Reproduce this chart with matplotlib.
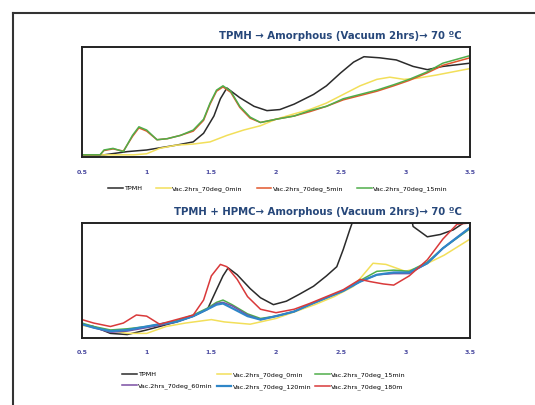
import matplotlib
matplotlib.use("Agg")
import matplotlib.pyplot as plt
from matplotlib.lines import Line2D

# ---- top panel: TPMH -> amorphous ----
top_title = "TPMH \u2192 Amorphous (Vacuum 2hrs)\u2192 70 \u00baC"
top_labels = ["TPMH", "Vac.2hrs_70deg_0min", "Vac.2hrs_70deg_5min", "Vac.2hrs_70deg_15min"]

top_tpmh_x = [0.5, 0.67, 0.85, 1.0, 1.23, 1.36, 1.44, 1.52, 1.57, 1.62, 1.72, 1.83, 1.93, 2.03,
              2.14, 2.29, 2.39, 2.5, 2.6, 2.68, 2.8, 2.93, 3.06, 3.17, 3.29, 3.5]
top_tpmh_y = [0.0, 0.0, 0.03, 0.045, 0.09, 0.12, 0.2, 0.36, 0.52, 0.62, 0.53, 0.45, 0.41, 0.42,
              0.47, 0.56, 0.64, 0.76, 0.86, 0.91, 0.90, 0.88, 0.82, 0.79, 0.82, 0.85]

top_0min_x = [0.5, 0.9, 1.0, 1.1, 1.23, 1.36, 1.49, 1.62, 1.75, 1.88, 2.0, 2.14, 2.26, 2.39,
              2.52, 2.65, 2.78, 2.88, 2.99, 3.09, 3.24, 3.5]
top_0min_y = [0.0, 0.0, 0.01, 0.06, 0.09, 0.10, 0.12, 0.18, 0.23, 0.27, 0.33, 0.38, 0.42, 0.48,
              0.56, 0.64, 0.70, 0.72, 0.70, 0.71, 0.74, 0.80]

top_15min_x = [0.5, 0.64, 0.67, 0.74, 0.82, 0.89, 0.94, 1.0, 1.08, 1.16, 1.26, 1.36, 1.44, 1.49,
               1.54, 1.59, 1.65, 1.72, 1.8, 1.88, 2.0, 2.14, 2.26, 2.39, 2.52, 2.65, 2.78,
               2.91, 3.03, 3.17, 3.29, 3.5]
top_15min_y = [0.0, 0.0, 0.045, 0.06, 0.03, 0.18, 0.26, 0.23, 0.14, 0.15, 0.18, 0.23, 0.33, 0.48,
               0.60, 0.64, 0.59, 0.45, 0.35, 0.30, 0.33, 0.36, 0.41, 0.45, 0.52, 0.56, 0.60,
               0.65, 0.70, 0.77, 0.85, 0.92]
top_5min_y = [0.0, 0.0, 0.04, 0.055, 0.035, 0.17, 0.25, 0.22, 0.14, 0.15, 0.18, 0.22, 0.32, 0.47,
              0.59, 0.63, 0.58, 0.44, 0.34, 0.30, 0.33, 0.36, 0.40, 0.45, 0.51, 0.55, 0.59,
              0.64, 0.69, 0.76, 0.83, 0.90]

# ---- bottom panel: TPMH + HPMC -> amorphous ----
bot_title = "TPMH + HPMC\u2192 Amorphous (Vacuum 2hrs)\u2192 70 \u00baC"
bot_labels = ["TPMH", "Vac.2hrs_70deg_0min", "Vac.2hrs_70deg_15min",
              "Vac.2hrs_70deg_60min", "Vac.2hrs_70deg_120min", "Vac.2hrs_70deg_180m"]

bot_tpmh_x = [0.5, 0.59, 0.72, 0.85, 1.0, 1.1, 1.23, 1.36, 1.47, 1.54, 1.59, 1.63, 1.7, 1.8,
              1.88, 1.98, 2.08, 2.18, 2.29, 2.39, 2.47, 2.52, 2.57, 2.62, 2.8, 3.0, 3.06,
              3.17, 3.27, 3.37, 3.45, 3.5]
bot_tpmh_y = [0.12, 0.10, 0.04, 0.03, 0.07, 0.10, 0.14, 0.19, 0.25, 0.42, 0.54, 0.61, 0.55, 0.43,
              0.35, 0.29, 0.32, 0.38, 0.45, 0.54, 0.62, 0.77, 0.94, 1.10, 1.40, 1.30, 0.97,
              0.88, 0.90, 0.94, 1.0, 1.0]

bot_0min_x = [0.5, 0.7, 0.85, 1.0, 1.15, 1.3, 1.5, 1.6, 1.8, 2.0, 2.15, 2.3, 2.45, 2.6, 2.75,
              2.85, 3.0, 3.1, 3.3, 3.5]
bot_0min_y = [0.11, 0.07, 0.04, 0.04, 0.10, 0.13, 0.16, 0.14, 0.12, 0.17, 0.23, 0.29, 0.36, 0.45,
              0.65, 0.64, 0.58, 0.61, 0.72, 0.86]

bot_x = [0.5, 0.59, 0.72, 0.85, 1.0, 1.1, 1.23, 1.36, 1.47, 1.54, 1.59, 1.66, 1.78, 1.88, 2.0,
         2.14, 2.26, 2.39, 2.52, 2.65, 2.78, 2.91, 3.03, 3.17, 3.29, 3.5]
bot_15min_y = [0.13, 0.10, 0.07, 0.08, 0.10, 0.12, 0.15, 0.20, 0.26, 0.31, 0.33, 0.29, 0.21, 0.17,
               0.19, 0.23, 0.29, 0.35, 0.41, 0.50, 0.58, 0.59, 0.58, 0.66, 0.78, 0.95]
bot_60min_y = [0.12, 0.09, 0.05, 0.06, 0.09, 0.11, 0.14, 0.19, 0.25, 0.30, 0.31, 0.28, 0.20, 0.16,
               0.19, 0.23, 0.29, 0.35, 0.41, 0.49, 0.55, 0.56, 0.56, 0.65, 0.78, 0.96]
bot_120min_y = [0.12, 0.09, 0.06, 0.07, 0.10, 0.12, 0.14, 0.19, 0.25, 0.29, 0.30, 0.26, 0.19, 0.16,
                0.19, 0.23, 0.29, 0.35, 0.41, 0.49, 0.55, 0.57, 0.57, 0.65, 0.78, 0.96]
bot_180m_x = [0.5, 0.59, 0.72, 0.82, 0.92, 1.0, 1.1, 1.23, 1.36, 1.44, 1.5, 1.57, 1.62, 1.7, 1.78,
              1.88, 2.0, 2.14, 2.26, 2.39, 2.52, 2.65, 2.73, 2.83, 2.91, 3.03, 3.17, 3.29,
              3.4, 3.5]
bot_180m_y = [0.16, 0.13, 0.10, 0.13, 0.20, 0.19, 0.12, 0.16, 0.20, 0.33, 0.54, 0.64, 0.62, 0.51,
              0.36, 0.25, 0.22, 0.25, 0.30, 0.36, 0.42, 0.51, 0.49, 0.47, 0.46, 0.54, 0.68,
              0.86, 0.99, 1.0]

xticks = [0.5, 1, 1.5, 2, 2.5, 3, 3.5]
xticklabels = ["0.5", "1", "1.5", "2", "2.5", "3", "3.5"]

black = "#2b2b2b"
yellow = "#f2df5a"
orange = "#e2572c"
green = "#4fae4a"
purple = "#7a4ea3"
blue = "#2f86c8"
red = "#d9393a"
title_color = "#26477a"
tick_color = "#4a4aa0"

fig = plt.figure(figsize=(5.35, 4.05), dpi=100)

# outer slide frame (left and top edges visible)
fig.add_artist(Line2D([13 / 535, 13 / 535], [0, 1 - 13 / 405], transform=fig.transFigure,
                      color="#333333", lw=1.5))
fig.add_artist(Line2D([13 / 535, 1], [1 - 13 / 405, 1 - 13 / 405], transform=fig.transFigure,
                      color="#333333", lw=1.5))


def style_axes(ax, ylim):
    ax.set_xlim(0.5, 3.5)
    ax.set_ylim(*ylim)
    ax.set_xticks(xticks)
    ax.set_xticklabels(xticklabels)
    ax.set_yticks([])
    ax.tick_params(axis="x", length=0, pad=9, labelsize=4.5, labelcolor=tick_color)
    for lab in ax.get_xticklabels():
        lab.set_fontweight("bold")
    for s in ax.spines.values():
        s.set_color("#222222")
        s.set_linewidth(1.4)


ax1 = fig.add_axes([82 / 535, 1 - 157 / 405, 388 / 535, 110 / 405])
ax1.plot(top_tpmh_x, top_tpmh_y, color=black, lw=1.1, label=top_labels[0])
ax1.plot(top_0min_x, top_0min_y, color=yellow, lw=1.1, label=top_labels[1])
ax1.plot(top_15min_x, top_5min_y, color=orange, lw=1.1, label=top_labels[2])
ax1.plot(top_15min_x, top_15min_y, color=green, lw=1.1, label=top_labels[3])
style_axes(ax1, (-0.02, 1.0))
fig.text(462 / 535, 1 - 36 / 405, top_title, ha="right", va="center",
         fontsize=7.3, color=title_color, fontweight="bold")
fig.legend(*ax1.get_legend_handles_labels(), loc="center", ncol=4,
           bbox_to_anchor=(278 / 535, 1 - 189 / 405), frameon=False,
           fontsize=4.6, handlelength=2.3, columnspacing=2.2, handletextpad=0.2)

ax2 = fig.add_axes([82 / 535, 1 - 338 / 405, 388 / 535, 115 / 405])
ax2.plot(bot_tpmh_x, bot_tpmh_y, color=black, lw=1.1, label=bot_labels[0])
ax2.plot(bot_0min_x, bot_0min_y, color=yellow, lw=1.1, label=bot_labels[1])
ax2.plot(bot_x, bot_15min_y, color=green, lw=1.1, label=bot_labels[2])
ax2.plot(bot_x, bot_60min_y, color=purple, lw=1.1, label=bot_labels[3])
ax2.plot(bot_x, bot_120min_y, color=blue, lw=1.6, label=bot_labels[4])
ax2.plot(bot_180m_x, bot_180m_y, color=red, lw=1.1, label=bot_labels[5])
style_axes(ax2, (0.0, 1.0))
fig.text(462 / 535, 1 - 212 / 405, bot_title, ha="right", va="center",
         fontsize=7.3, color=title_color, fontweight="bold")

# legend filled row by row, as in the original
h, l = ax2.get_legend_handles_labels()
order = [0, 3, 1, 4, 2, 5]
fig.legend([h[i] for i in order], [l[i] for i in order], loc="center", ncol=3,
           bbox_to_anchor=(264 / 535, 1 - 381 / 405), frameon=False,
           fontsize=4.6, handlelength=2.3, columnspacing=0.6, handletextpad=0.2,
           labelspacing=0.9)

fig.savefig("out.png", dpi=100)
